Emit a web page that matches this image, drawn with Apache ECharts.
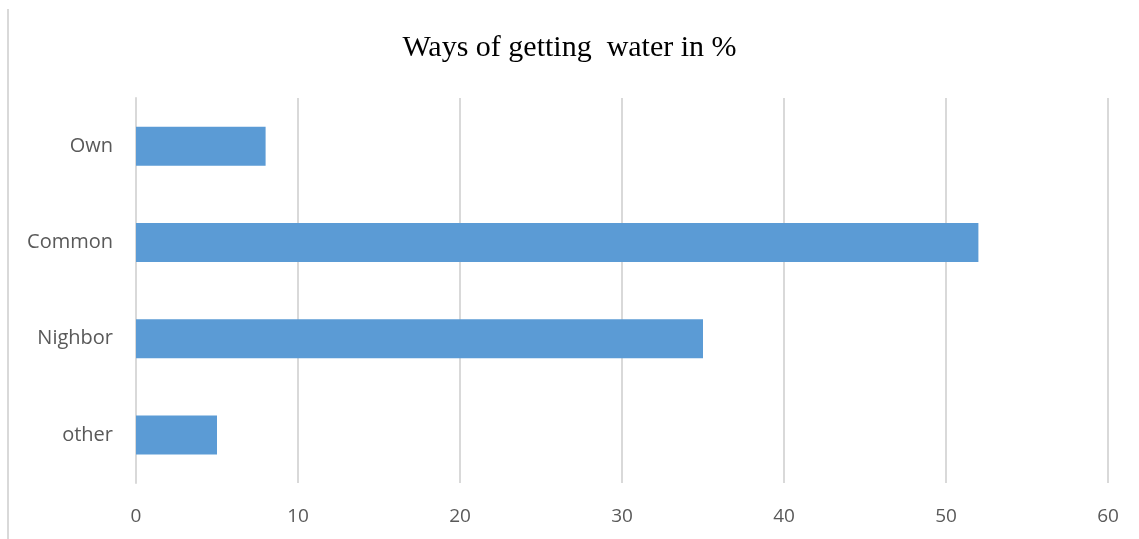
<!DOCTYPE html>
<html>
<head>
<meta charset="utf-8">
<script src="https://cdn.jsdelivr.net/npm/echarts@6/dist/echarts.min.js"></script>
<style>
  html, body { margin: 0; padding: 0; background: #fff; }
  #chart { width: 1139px; height: 539px; }
</style>
</head>
<body>
<div id="chart"></div>
<script>
// Ways of getting water, share in percent
const categories = ['Own', 'Common', 'Nighbor', 'other'];
const shares = [8, 52, 35, 5];
const xTicks = { min: 0, max: 60, interval: 10 };

const chart = echarts.init(document.getElementById('chart'), null, { renderer: 'canvas' });

chart.setOption({
  animation: false,
  backgroundColor: '#ffffff',
  title: {
    text: 'Ways of getting  water in %',
    left: 'center',
    top: 28,
    textStyle: {
      fontFamily: '"Liberation Serif", "DejaVu Serif", serif',
      fontSize: 30,
      fontWeight: 'normal',
      color: '#000000'
    }
  },
  grid: { left: 136, right: 31, top: 98, bottom: 56, containLabel: false },
  xAxis: {
    type: 'value',
    min: xTicks.min,
    max: xTicks.max,
    interval: xTicks.interval,
    axisLine: { show: false },
    axisTick: { show: false },
    splitLine: { show: true, lineStyle: { color: '#d9d9d9', width: 2 } },
    axisLabel: {
      margin: 24,
      fontFamily: '"Open Sans", "Liberation Sans", sans-serif',
      fontSize: 19,
      color: '#595959'
    }
  },
  yAxis: {
    type: 'category',
    data: categories,
    inverse: true,
    axisLine: { show: true, lineStyle: { color: '#d9d9d9', width: 2 } },
    axisTick: { show: false },
    axisLabel: {
      margin: 23,
      fontFamily: '"Open Sans", "Liberation Sans", sans-serif',
      fontSize: 20,
      color: '#595959'
    }
  },
  series: [{
    type: 'bar',
    data: shares,
    barWidth: 39,
    itemStyle: { color: '#5b9bd5' }
  }],
  graphic: [{
    type: 'line',
    shape: { x1: 8, y1: 9, x2: 8, y2: 539 },
    style: { stroke: '#d9d9d9', lineWidth: 2 },
    silent: true
  }]
});
</script>
</body>
</html>
